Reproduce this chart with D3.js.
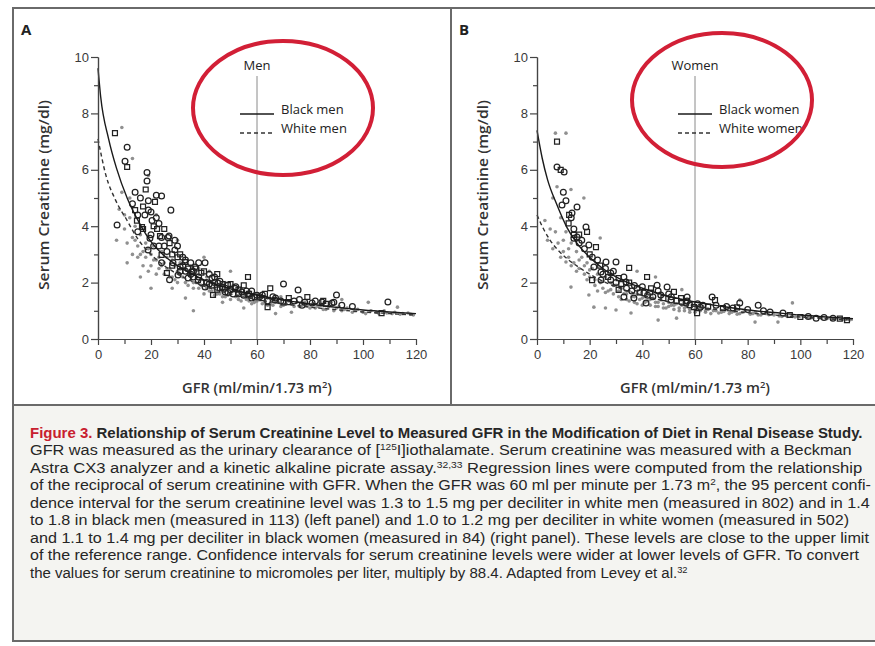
<!DOCTYPE html>
<html lang="en">
<head>
<meta charset="utf-8">
<title>Serum Creatinine vs GFR</title>
<style>
  body { margin: 0; background: #fff; }
  svg { display: block; font-family: "Open Sans", "DejaVu Sans", sans-serif; }
  .axis path, .axis line { stroke: #444; stroke-width: 1.2; }
  .axis text { font-size: 13px; fill: #3a3a3a; }
  .title-y, .title-x { font-size: 14px; font-weight: 600; fill: #333; }
  .panel-tag { font-size: 15px; font-weight: 700; fill: #222; }
  .legend text { font-size: 13px; fill: #222; }
  .caption text { font-family: "Liberation Sans", Arial, sans-serif; font-size: 14.5px; fill: #262626; }
</style>
</head>
<body>
<svg id="chart" width="875" height="646"></svg>
<script src="https://cdn.jsdelivr.net/npm/d3@7/dist/d3.min.js"></script>
<script>
// ---- data: [GFR, serum creatinine] ----
var yTicks = [0, 2, 4, 6, 8, 10];
var yMinor = [1, 3, 5, 7, 9];
var xTicks = [0, 20, 40, 60, 80, 100, 120];
var xMinor = [10, 30, 50, 70, 90, 110];

// regression lines (black = solid, white = dashed)
var menBlackLine = [[0,9.6],[1,8.6],[4,7.1],[7,6.05],[11,5.0],[16,4.05],[20,3.45],[25,2.95],[30,2.6],[40,2.1],[50,1.78],[60,1.55],[70,1.38],[80,1.24],[90,1.12],[100,1.03],[110,0.96],[120,0.9]];
var menWhiteLine = [[0,7.1],[3,5.8],[6.5,4.95],[11,4.2],[15,3.55],[20,3.0],[25,2.6],[30,2.3],[40,1.88],[50,1.6],[60,1.4],[70,1.25],[80,1.13],[90,1.04],[100,0.96],[110,0.9],[120,0.85]];
var womenBlackLine = [[0,7.4],[2,6.4],[4,5.65],[7.6,4.75],[11.4,3.95],[15,3.42],[20,2.9],[25,2.5],[30,2.2],[40,1.8],[50,1.52],[60,1.31],[70,1.16],[80,1.03],[90,0.94],[100,0.85],[110,0.78],[120,0.72]];
var womenWhiteLine = [[0,4.4],[2.5,3.9],[5,3.5],[8,3.15],[11.4,2.85],[15,2.6],[20,2.3],[25,2.05],[30,1.85],[40,1.55],[50,1.32],[60,1.15],[70,1.03],[80,0.93],[90,0.85],[100,0.78],[110,0.72],[120,0.67]];

// subjects, black (open markers)
var menBlack = [[6.4,7.3],[11,6.8],[10.2,6.3],[11,6.1],[18.5,5.9],[18.5,5.6],[18,5.3],[22,5.1],[24,5.07],[21.5,4.86],[27.5,4.57],[13,4.8],[14,4.57],[19,4.57],[17.7,4.4],[14.7,4.2],[20.4,4.2],[7.2,4.04],[22.3,3.9],[24,3.6],[26.4,3.6],[16.6,3.97],[15,3.8],[19.6,3.57],[23.4,3.65],[26.8,3.65],[18.9,3.16],[24,2.98],[29,3.16],[28.3,2.7],[32.8,2.73],[36.6,2.55],[40.4,2.7],[26,2.34],[30.2,2.27],[34,2.16],[37.7,2.09],[43,2.16],[45.3,1.99],[49,1.91],[51.7,1.8],[54.3,1.67],[56.6,2.2],[56.6,1.56],[59.2,1.49],[43.4,1.56],[48,1.67],[40.4,1.84],[35.5,2.38],[31,2.55],[24,2.7],[65,1.8],[70,1.95],[75.5,1.74],[79,1.49],[90,1.56],[109.4,1.31],[64,1.13],[62,1.56],[66.8,1.38],[71.7,1.31],[84.5,1.31],[88.3,1.28],[107,0.92],[77,1.2],[80.8,1.28],[30,2.9],[33,2.4],[36,2.2],[39,2.35],[42,1.95],[44,2.2],[47,1.85],[50,1.75],[53,1.6],[55,1.9],[58,1.7],[61,1.5],[63,1.6],[66,1.5],[69,1.35],[72,1.45],[76,1.4],[82,1.35],[86,1.25],[92,1.2],[96,1.15],[28,3.0],[32,2.9],[38,2.7],[45,2.3],[21,3.3],[27,2.1],[46,1.8],
  [14,5.2],[16,5.0],[17,4.7],[19,4.9],[20,4.5],[21,4.0],[22,4.3],[23,4.1],[25,3.9],[25,3.3],[26,3.1],[27,3.4],[29,3.5],[30,3.3],[31,3.0],[32,2.6],[33,2.8],[34,2.5],[35,2.7],[35,2.3],[37,2.5],[38,2.2],[39,2.0],[40,2.4],[41,2.0],[42,2.3],[43,1.9],[44,2.0],[46,2.05],[47,1.95],[48,1.8],[49,1.65],[50,1.95],[51,1.6],[52,1.85],[53,1.75],[55,1.55],[56,1.7],[57,1.6],[58,1.45],[60,1.55],[62,1.45],[64,1.35],[67,1.45],[70,1.3],[74,1.35],[78,1.3],[85,1.35],[89,1.3],[15,4.4],[17,3.9],[20,3.7],[23,3.3],[28,2.6],[31,2.4],[36,2.4],[45,1.75]];
var womenBlack = [[7.6,7.0],[7.6,6.1],[10.3,5.92],[9,6.0],[9.5,4.75],[15.2,4.68],[12.2,4.4],[13.3,4.47],[18.6,3.97],[19,3.8],[15.2,3.62],[14,3.57],[14,3.69],[16,3.4],[19.7,3.33],[22.4,3.26],[26.2,2.73],[30,2.73],[35,2.52],[21.6,2.55],[24.3,2.38],[20.9,2.09],[24.3,2.09],[28,2.09],[31,2.16],[33.8,2.02],[28,2.34],[41.8,2.2],[38,1.8],[40.6,1.63],[43.3,1.8],[45.6,1.91],[49.4,1.84],[52,1.67],[47,1.56],[50.9,1.38],[54.7,1.45],[57,1.49],[56.6,1.28],[59.6,1.13],[41.4,1.28],[36.8,1.45],[31,1.74],[33,1.49],[66.5,1.49],[67.6,1.38],[84,1.2],[62,1.13],[70.6,1.1],[74.4,1.1],[77,1.28],[60.8,0.92],[88.5,0.96],[93.4,0.92],[100,0.78],[106,0.74],[112.4,0.74],[117.7,0.67],
  [10,5.2],[11,4.9],[12,4.1],[13,4.3],[14,3.9],[16,3.7],[17,3.5],[18,3.2],[20,3.0],[21,2.9],[23,2.8],[24,2.6],[25,2.3],[26,2.5],[27,2.2],[29,2.4],[30,2.0],[32,1.95],[33,2.2],[34,1.8],[35,2.0],[36,1.7],[37,1.9],[39,1.65],[40,1.85],[42,1.55],[43,1.65],[44,1.5],[46,1.7],[48,1.45],[50,1.6],[51,1.5],[53,1.35],[55,1.3],[57,1.35],[58,1.2],[61,1.25],[63,1.2],[65,1.15],[68,1.2],[72,1.15],[76,1.12],[80,1.05],[86,1.0],[96,0.85],[103,0.8],[109,0.76],[115,0.72]];

// subjects, white (small dots)
var menWhite = [[8,4.6],[9,5.2],[10,3.9],[12,4.3],[12,5.0],[13,3.6],[14,4.0],[15,3.3],[16,3.7],[17,3.1],[18,3.4],[18,2.9],[20,3.0],[20,2.6],[21,3.3],[22,2.8],[23,2.5],[24,3.1],[25,2.7],[25,2.3],[26,2.9],[27,2.5],[28,2.2],[28,2.8],[30,2.4],[30,2.0],[31,2.7],[32,2.2],[33,2.5],[34,1.9],[34,2.3],[35,2.6],[36,2.0],[37,2.3],[38,1.8],[38,2.5],[39,2.1],[40,1.9],[41,2.2],[42,1.7],[42,2.4],[43,2.0],[44,1.8],[45,2.1],[45,1.6],[46,1.9],[47,1.7],[48,2.0],[48,1.5],[49,1.8],[50,1.6],[51,1.9],[52,1.5],[52,1.7],[53,1.4],[54,1.8],[55,1.6],[56,1.4],[57,1.7],[58,1.5],[59,1.3],[60,1.6],[61,1.4],[62,1.5],[63,1.3],[64,1.45],[65,1.25],[66,1.4],[68,1.3],[69,1.5],[70,1.2],[72,1.35],[73,1.25],[75,1.3],[76,1.15],[78,1.3],[79,1.2],[81,1.25],[82,1.1],[84,1.2],[85,1.05],[87,1.15],[88,1.3],[90,1.1],[92,1.0],[94,1.1],[96,0.95],[98,1.05],[100,0.95],[103,1.0],[106,0.9],[108,1.0],[111,0.9],[114,0.88],[117,0.92],[119,0.85],[11,2.7],[15,2.9],[16,2.2],[20,1.8],[28,1.8],[33,1.45],[36,1.0],[47,1.3],[55,1.1],[67,0.9],[73,0.95],[92,1.4],[102,1.3],[113,1.13],[7,3.5],[13,6.4],[9,7.5],[19,5.8],[22,4.4],[30,3.5],[40,2.9],[50,2.4],
  [10,4.4],[11,3.4],[13,3.0],[14,3.5],[16,3.0],[17,2.6],[19,3.2],[19,2.4],[21,2.8],[22,2.3],[23,2.9],[24,2.6],[26,2.5],[27,2.2],[29,2.6],[29,2.1],[31,2.3],[32,2.5],[33,2.0],[35,2.2],[36,1.8],[37,2.0],[39,1.9],[40,1.6],[41,1.8],[43,1.7],[44,1.55],[46,1.6],[47,1.5],[49,1.55],[50,1.4],[51,1.7],[53,1.55],[54,1.35],[56,1.55],[57,1.35],[58,1.25],[60,1.35],[62,1.25],[64,1.2],[66,1.2],[67,1.3],[69,1.15],[71,1.25],[74,1.15],[77,1.2],[80,1.1],[83,1.15],[86,1.05],[89,1.0],[91,1.15],[93,1.05],[97,1.0],[101,0.9],[105,0.95],[109,0.92],[112,0.95],[115,0.9],[118,0.88]];
var womenWhite = [[3,4.2],[5,3.9],[6,5.0],[8,3.4],[9,4.3],[10,3.1],[11,3.8],[12,2.9],[13,3.4],[14,2.7],[15,3.1],[16,2.5],[17,2.9],[18,2.3],[19,2.7],[20,2.2],[21,2.5],[22,1.9],[23,2.3],[24,2.0],[25,1.8],[26,2.2],[27,1.7],[28,2.0],[29,1.6],[30,1.9],[31,1.5],[32,1.8],[33,1.6],[34,1.4],[35,1.7],[36,1.5],[37,1.3],[38,1.6],[39,1.4],[40,1.2],[41,1.5],[42,1.35],[43,1.2],[44,1.45],[45,1.3],[46,1.15],[47,1.4],[48,1.25],[49,1.1],[50,1.3],[51,1.2],[52,1.05],[53,1.25],[54,1.1],[55,1.2],[56,1.0],[57,1.15],[58,1.05],[59,1.2],[60,0.95],[61,1.1],[62,1.0],[63,1.15],[64,0.95],[65,1.05],[66,0.9],[68,1.0],[70,0.95],[72,1.05],[73,0.9],[75,0.98],[77,0.9],[79,1.0],[81,0.88],[83,0.95],[85,0.85],[87,0.9],[90,0.85],[92,0.82],[95,0.8],[98,0.78],[101,0.8],[104,0.75],[107,0.76],[110,0.72],[113,0.72],[116,0.7],[119,0.68],[7,7.3],[11,7.3],[7.6,5.4],[12.9,5.3],[17.8,5.0],[12.9,1.84],[19.7,1.56],[26,1.1],[35.7,0.92],[46,0.67],[53,0.74],[21.6,1.13],[30,1.03],[11,2.73],[24,3.58],[82.8,0.6],[91.5,0.6],[97,1.28],[77,1.38],[45,2.2],[55,1.75],[38,2.4],
  [4,3.5],[6,3.2],[7,3.8],[9,2.9],[10,3.5],[12,3.2],[13,2.6],[15,2.4],[16,2.8],[18,2.6],[19,2.1],[20,2.45],[22,2.1],[23,1.7],[25,2.05],[26,1.65],[28,1.75],[29,1.9],[31,1.7],[32,1.4],[34,1.6],[35,1.35],[37,1.5],[38,1.25],[40,1.45],[41,1.3],[43,1.4],[45,1.15],[46,1.3],[48,1.1],[50,1.15],[52,1.2],[54,1.0],[56,1.1],[58,0.95],[60,1.05],[62,1.1],[64,1.0],[67,1.0],[69,0.92],[71,0.98],[74,0.95],[76,0.88],[78,0.95],[82,0.9],[84,0.85],[88,0.86],[93,0.8],[97,0.8],[103,0.76],[108,0.74],[112,0.7],[117,0.68]];

var captionLines = [
  [{t: "Figure 3.", red: true, bold: true}, {t: " Relationship of Serum Creatinine Level to Measured GFR in the Modification of Diet in Renal Disease Study.", bold: true}],
  [{t: "GFR was measured as the urinary clearance of ["}, {t: "125", sup: true}, {t: "I]iothalamate. Serum creatinine was measured with a Beckman"}],
  [{t: "Astra CX3 analyzer and a kinetic alkaline picrate assay."}, {t: "32,33", sup: true}, {t: " Regression lines were computed from the relationship"}],
  [{t: "of the reciprocal of serum creatinine with GFR. When the GFR was 60 ml per minute per 1.73 m"}, {t: "2", sup: true}, {t: ", the 95 percent confi-"}],
  [{t: "dence interval for the serum creatinine level was 1.3 to 1.5 mg per deciliter in white men (measured in 802) and in 1.4"}],
  [{t: "to 1.8 in black men (measured in 113) (left panel) and 1.0 to 1.2 mg per deciliter in white women (measured in 502)"}],
  [{t: "and 1.1 to 1.4 mg per deciliter in black women (measured in 84) (right panel). These levels are close to the upper limit"}],
  [{t: "of the reference range. Confidence intervals for serum creatinine levels were wider at lower levels of GFR. To convert"}],
  [{t: "the values for serum creatinine to micromoles per liter, multiply by 88.4. Adapted from Levey et al."}, {t: "32", sup: true}]
];
var captionWidths = [833, 822, 833, 842, 840, 820, 840, 830, 658];

var svg = d3.select('#chart');

// squeeze a text element horizontally to a target width, anchored at x0
function fitWidth(sel, x0, target) {
    var w = sel.node().getBBox().width;
    sel.attr('transform', 'translate(' + x0 + ',0) scale(' + (target / w) + ',1) translate(' + (-x0) + ',0)');
}

// frame and caption box
svg.append('rect').attr('x', 13).attr('y', 405).attr('width', 863).attr('height', 236)
    .attr('fill', '#f4f4f1');
svg.append('rect').attr('x', 13).attr('y', 8).attr('width', 863).attr('height', 633)
    .attr('fill', 'none').attr('stroke', '#6a6a6a').attr('stroke-width', 2);
svg.append('line').attr('x1', 13).attr('x2', 876).attr('y1', 405).attr('y2', 405)
    .attr('stroke', '#6a6a6a').attr('stroke-width', 2);
svg.append('line').attr('x1', 451).attr('x2', 451).attr('y1', 8).attr('y2', 405)
    .attr('stroke', '#6a6a6a').attr('stroke-width', 2);

function drawPanel(opt) {
    var x = d3.scaleLinear().domain([0, 120]).range([opt.left, opt.right]);
    var y = d3.scaleLinear().domain([0, 10]).range([339, 57]);
    var g = svg.append('g');

    // panel letter
    g.append('text').attr('class', 'panel-tag').attr('x', opt.tagX).attr('y', 35).text(opt.tag);

    // reference line at GFR 60
    g.append('line')
        .attr('x1', x(60)).attr('x2', x(60))
        .attr('y1', y(0)).attr('y2', 76)
        .attr('stroke', '#8a8a8a').attr('stroke-width', 1);

    // white subjects
    g.append('g').selectAll('circle')
        .data(opt.white).enter().append('circle')
        .attr('cx', function(d) { return x(d[0]); })
        .attr('cy', function(d) { return y(d[1]); })
        .attr('r', 1.8)
        .attr('fill', '#7d7d7d')
        .attr('opacity', 0.85);

    // black subjects
    g.append('g').selectAll('path')
        .data(opt.black).enter().append('path')
        .attr('d', function(d, i) {
            return d3.symbol().type(i % 3 === 0 ? d3.symbolSquare : d3.symbolCircle).size(i % 3 === 0 ? 24 : 26)();
        })
        .attr('transform', function(d) { return 'translate(' + x(d[0]) + ',' + y(d[1]) + ')'; })
        .attr('fill', 'none')
        .attr('stroke', '#222')
        .attr('stroke-width', 1.25);

    // regression lines
    var line = d3.line()
        .x(function(d) { return x(d[0]); })
        .y(function(d) { return y(d[1]); })
        .curve(d3.curveMonotoneX);
    g.append('path').datum(opt.blackLine).attr('d', line)
        .attr('fill', 'none').attr('stroke', '#1a1a1a').attr('stroke-width', 1.4);
    g.append('path').datum(opt.whiteLine).attr('d', line)
        .attr('fill', 'none').attr('stroke', '#333').attr('stroke-width', 1.4)
        .attr('stroke-dasharray', '4,3');

    // axes
    g.append('g').attr('class', 'axis').attr('transform', 'translate(' + opt.left + ',0)')
        .call(d3.axisLeft(y).tickValues(yTicks).tickSize(7).tickSizeOuter(0).tickPadding(2));
    g.append('g').attr('class', 'axis').attr('transform', 'translate(' + opt.left + ',0)')
        .call(d3.axisLeft(y).tickValues(yMinor).tickSize(4).tickSizeOuter(0).tickFormat(''));
    g.append('g').attr('class', 'axis').attr('transform', 'translate(0,' + y(0) + ')')
        .call(d3.axisBottom(x).tickValues(xTicks).tickSize(6).tickSizeOuter(0).tickPadding(5));
    g.append('g').attr('class', 'axis').attr('transform', 'translate(0,' + y(0) + ')')
        .call(d3.axisBottom(x).tickValues(xMinor).tickSize(5).tickSizeOuter(0).tickFormat(''));

    // axis titles
    var cx = opt.left - 54;
    var yt = g.append('g').attr('transform', 'translate(' + cx + ',195) rotate(-90)');
    var ytt = yt.append('text').attr('class', 'title-y')
        .attr('x', 0).attr('text-anchor', 'middle').attr('dy', '0.35em')
        .text('Serum Creatinine (mg/dl)');
    fitWidth(ytt, 0, 190);

    var xt = g.append('text').attr('class', 'title-x')
        .attr('x', x(60)).attr('y', 393).attr('text-anchor', 'middle');
    xt.append('tspan').text('GFR (ml/min/1.73 m');
    xt.append('tspan').attr('font-size', '9px').attr('dy', -5).text('2');
    xt.append('tspan').attr('dy', 5).text(')');
    fitWidth(xt, x(60), 150);

    // legend
    var lg = g.append('g').attr('class', 'legend');
    lg.append('text').attr('x', x(60)).attr('y', 70).attr('text-anchor', 'middle').text(opt.title);
    lg.append('line').attr('x1', x(60) - 17).attr('x2', x(60) + 17).attr('y1', 114).attr('y2', 114)
        .attr('stroke', '#1a1a1a').attr('stroke-width', 1.4);
    lg.append('line').attr('x1', x(60) - 17).attr('x2', x(60) + 17).attr('y1', 133).attr('y2', 133)
        .attr('stroke', '#333').attr('stroke-width', 1.4).attr('stroke-dasharray', '4,3');
    lg.append('text').attr('x', x(60) + 24).attr('y', 114).text(opt.blackLabel);
    lg.append('text').attr('x', x(60) + 24).attr('y', 133).text(opt.whiteLabel);

    // red highlight ellipse
    g.append('ellipse')
        .attr('cx', opt.ex).attr('cy', opt.ey).attr('rx', 90).attr('ry', 67)
        .attr('fill', 'none').attr('stroke', '#d21f36').attr('stroke-width', 4);
}

drawPanel({
    tag: 'A', tagX: 21, left: 98, right: 416, title: 'Men',
    blackLabel: 'Black men', whiteLabel: 'White men',
    black: menBlack, white: menWhite, blackLine: menBlackLine, whiteLine: menWhiteLine,
    ex: 283, ey: 108
});
drawPanel({
    tag: 'B', tagX: 459, left: 537, right: 853, title: 'Women',
    blackLabel: 'Black women', whiteLabel: 'White women',
    black: womenBlack, white: womenWhite, blackLine: womenBlackLine, whiteLine: womenWhiteLine,
    ex: 722, ey: 100
});

// caption
var cap = svg.append('g').attr('class', 'caption');
captionLines.forEach(function(parts, i) {
    var base = 438 + i * 17.5;
    var t = cap.append('text').attr('x', 30).attr('y', base);
    var afterSup = false;
    parts.forEach(function(p) {
        var s = t.append('tspan').text(p.t);
        if (p.bold) s.attr('font-weight', 700);
        if (p.red) s.attr('fill', '#c8202f');
        if (p.sup) { s.attr('font-size', '9px').attr('dy', -5); afterSup = true; }
        else if (afterSup) { s.attr('dy', 5); afterSup = false; }
    });
    fitWidth(t, 30, captionWidths[i]);
});
</script>
</body>
</html>
